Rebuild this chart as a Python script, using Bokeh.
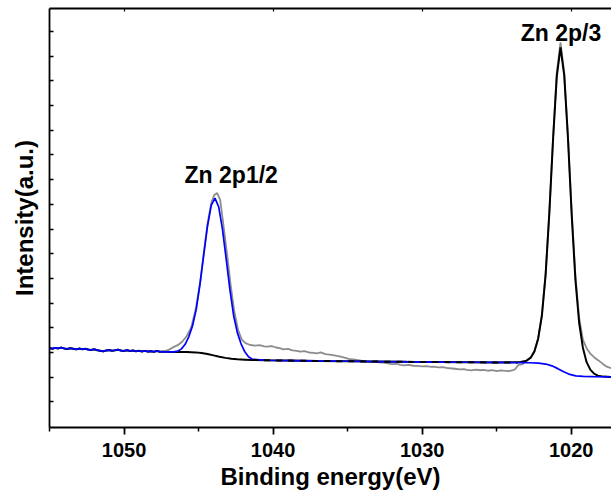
from bokeh.plotting import figure
from bokeh.models import (Range1d, FixedTicker, LinearAxis, Label, CustomLabelingPolicy,
                          CustomJSTickFormatter)
from bokeh.embed import file_html
from bokeh.resources import INLINE

# ---- data (binding energy in eV, intensity in arbitrary units) ----
left_eV = [1055.0, 1054.8, 1054.6, 1054.4, 1054.2, 1054.0, 1053.8, 1053.6, 1053.4, 1053.2,
           1053.0, 1052.8, 1052.6, 1052.4, 1052.2, 1052.0, 1051.8, 1051.6, 1051.4, 1051.2,
           1051.0, 1050.8, 1050.6, 1050.4, 1050.2, 1050.0, 1049.8, 1049.6, 1049.4, 1049.2,
           1049.0, 1048.8, 1048.6, 1048.4, 1048.2, 1048.0, 1047.8, 1047.6]
left_int = [79.6, 79.0, 79.8, 79.3, 80.1, 79.2, 78.7, 79.5, 78.9, 78.3,
            79.1, 78.5, 78.9, 78.1, 77.8, 78.4, 77.5, 76.9, 76.3, 77.2,
            77.6, 76.9, 77.4, 78.0, 77.1, 76.8, 77.5, 76.7, 77.2, 76.4,
            76.9, 76.2, 76.8, 76.1, 76.5, 75.9, 76.7, 76.0]

# background below Zn 2p1/2 (black)
bg1_eV = [1047.3, 1046.5, 1045.8, 1045.2, 1044.8, 1044.4, 1044.0, 1043.6, 1043.2, 1042.8,
          1042.4, 1041.9, 1041.4]
bg1_int = [75.9, 75.8, 75.6, 75.3, 74.6, 73.6, 72.3, 71.0, 69.8, 68.9,
           68.3, 68.0, 67.7]

# flat background between the peaks
mid_eV = [1040.5, 1039.0, 1037.0, 1035.0, 1033.0, 1031.0, 1029.0, 1027.0, 1025.0, 1023.6]
mid_int = [67.4, 67.1, 66.7, 66.4, 66.1, 65.8, 65.6, 65.4, 65.2, 65.0]

# background step below Zn 2p3/2 (blue)
bg2_eV = [1022.8, 1022.2, 1021.7, 1021.3, 1020.9, 1020.5, 1020.1, 1019.7, 1019.2, 1018.5, 1017.3]
bg2_int = [64.9, 64.6, 63.6, 61.8, 59.0, 55.8, 53.2, 51.8, 51.2, 50.9, 50.7]

# Zn 2p1/2 fitted peak + background (blue)
pk1_eV = [1047.3, 1046.7, 1046.4, 1046.15, 1045.9, 1045.65, 1045.4, 1045.15, 1044.9, 1044.65,
          1044.4, 1044.15, 1043.9, 1043.65, 1043.4, 1043.15, 1042.9, 1042.65, 1042.4, 1042.15,
          1041.9, 1041.65, 1041.4]
pk1_int = [75.9, 75.8, 76.5, 78.8, 83.4, 91.2, 102.1, 118.9, 144.2, 173.6,
           202.0, 222.7, 229.9, 221.2, 199.0, 169.2, 138.4, 112.3, 95.1, 83.9,
           75.9, 71.0, 68.5]

# Zn 2p3/2 fitted peak + background (black)
pk2_eV = [1023.4, 1023.0, 1022.72, 1022.47, 1022.22, 1021.97, 1021.72, 1021.47, 1021.22, 1020.97,
          1020.72, 1020.47, 1020.22, 1019.97, 1019.72, 1019.47, 1019.22, 1018.97, 1018.72, 1018.47,
          1018.22, 1017.8, 1017.3]
pk2_int = [65.6, 67.0, 70.0, 76.5, 89.0, 112.0, 153.0, 215.0, 289.0, 352.0,
           381.0, 353.0, 290.0, 213.0, 148.0, 105.0, 80.0, 65.5, 58.0, 54.0,
           52.0, 51.0, 50.7]

# measured spectrum (grey)
raw1_eV = [1047.3, 1047.0, 1046.7, 1046.4, 1046.1, 1045.8, 1045.5, 1045.2, 1044.9, 1044.65,
           1044.4, 1044.15, 1043.95, 1043.75, 1043.55, 1043.35, 1043.1, 1042.85, 1042.6, 1042.35,
           1042.1, 1041.85]
raw1_int = [76.5, 77.8, 80.5, 82.5, 86.0, 91.5, 100.0, 118.0, 145.0, 175.0,
            204.0, 225.0, 233.0, 235.0, 228.0, 205.0, 175.0, 143.0, 116.0, 98.0,
            88.0, 84.5]
raw2_eV = [1041.54, 1041.2, 1040.9, 1040.6, 1040.42, 1040.1, 1039.8, 1039.5, 1039.31, 1039.0,
           1038.7, 1038.4, 1038.19, 1037.9, 1037.6, 1037.3, 1037.07, 1036.8, 1036.5, 1036.2,
           1035.9, 1035.72, 1035.4, 1035.1, 1034.83, 1034.5, 1034.2, 1033.9, 1033.71, 1033.4,
           1033.1, 1032.8, 1032.6, 1032.3, 1032.0, 1031.7, 1031.48, 1031.2, 1030.9, 1030.6,
           1030.36, 1030.0, 1029.7, 1029.4, 1029.25, 1028.9, 1028.6, 1028.3, 1028.13, 1027.8,
           1027.5, 1027.2, 1027.0, 1026.7, 1026.4, 1026.1, 1025.89, 1025.6, 1025.3, 1025.0,
           1024.7, 1024.55, 1024.2, 1023.9, 1023.77, 1023.54, 1023.3]
raw2_int = [82.7, 82.0, 82.5, 81.3, 81.0, 81.6, 80.2, 79.4, 78.4, 78.9,
            77.3, 76.8, 76.0, 76.6, 75.2, 74.8, 74.4, 75.3, 73.6, 73.0,
            72.4, 71.7, 70.8, 69.6, 68.4, 68.0, 67.3, 66.5, 66.0, 65.6,
            65.9, 65.1, 65.0, 64.2, 63.6, 63.9, 62.7, 62.3, 62.8, 61.9,
            61.7, 61.2, 61.6, 60.8, 61.0, 60.3, 60.6, 59.5, 59.4, 58.9,
            58.2, 58.5, 57.7, 57.2, 58.0, 57.4, 57.7, 56.9, 57.5, 56.6,
            57.3, 57.0, 56.5, 57.4, 58.4, 62.7, 63.2]
raw3_eV = [1022.98, 1022.72, 1022.47, 1022.22, 1021.97, 1021.72, 1021.47, 1021.22, 1020.97, 1020.72,
           1020.47, 1020.22, 1019.97, 1019.72, 1019.47, 1019.22, 1018.97, 1018.72, 1018.47, 1018.2,
           1017.9, 1017.62, 1017.3]
raw3_int = [67.0, 70.0, 76.0, 89.5, 113.0, 154.0, 216.0, 290.0, 356.0, 386.0,
            355.0, 292.0, 216.0, 152.0, 110.0, 88.0, 79.5, 74.0, 70.5, 67.5,
            64.0, 61.0, 59.3]

x_major = [1050, 1040, 1030, 1020]
x_minor = [1055, 1045, 1035, 1025]

peak_labels = ["Zn 2p1/2", "Zn 2p/3"]
label_eV = [1042.81, 1020.69]
label_int = [252.7, 395.7]

FONT = "Liberation Sans"

raw_eV = left_eV + raw1_eV + raw2_eV + raw3_eV
raw_int = left_int + raw1_int + raw2_int + raw3_int
blue_eV = left_eV + pk1_eV + mid_eV + bg2_eV
blue_int = left_int + pk1_int + mid_int + bg2_int
black_eV = left_eV + bg1_eV + mid_eV[:-1] + pk2_eV
black_int = left_int + bg1_int + mid_int[:-1] + pk2_int

p = figure(width=611, height=497, output_backend="svg", toolbar_location=None,
           x_range=Range1d(1055, 1017.3), y_range=Range1d(0, 420),
           min_border_left=49, min_border_right=0, min_border_top=8, min_border_bottom=70)
p.outline_line_color = None
p.xgrid.visible = False
p.ygrid.visible = False
p.background_fill_color = "white"
p.border_fill_color = "white"

p.line(raw_eV, raw_int, line_color="#8c8c8c", line_width=1.8)
p.line(black_eV, black_int, line_color="black", line_width=2.0)
p.line(blue_eV, blue_int, line_color="#0000ff", line_width=1.7)
p.line([1041.4] + mid_eV, [67.7] + mid_int, line_color="black", line_width=2.0, line_dash="6 6")

def hidden_labels():
    return dict(major_label_policy=CustomLabelingPolicy(
                    code="for (const i of indices) indices.unset(i)\nreturn indices"),
                formatter=CustomJSTickFormatter(code="return ''"),
                major_label_text_font_size="1px", major_label_standoff=0)

xa = p.xaxis[0]
xa.ticker = FixedTicker(ticks=x_major, minor_ticks=x_minor)
xa.major_tick_out = 7
xa.major_tick_in = 0
xa.minor_tick_out = 4
xa.minor_tick_in = 0
xa.axis_line_width = 1.8
xa.major_tick_line_width = 1.8
xa.minor_tick_line_width = 1.5
xa.major_label_text_font = FONT
xa.major_label_text_font_style = "bold"
xa.major_label_text_font_size = "20px"
xa.major_label_text_color = "black"
xa.major_label_standoff = 8
xa.axis_label = "Binding energy(eV)"
xa.axis_label_text_font = FONT
xa.axis_label_text_font_style = "bold"
xa.axis_label_text_font_size = "24px"
xa.axis_label_standoff = 3
xa.axis_label_text_color = "black"

ya = p.yaxis[0]
ya.ticker = FixedTicker(ticks=[25.7 + 24.75 * i for i in range(16)], minor_ticks=[])
ya.major_tick_in = 4
ya.major_tick_out = 0
ya.minor_tick_in = 0
ya.minor_tick_out = 0
ya.axis_line_width = 1.8
ya.major_tick_line_width = 1.5
for k, v in hidden_labels().items():
    setattr(ya, k, v)
ya.axis_label = "Intensity(a.u.)"
ya.axis_label_text_font = FONT
ya.axis_label_text_font_style = "bold"
ya.axis_label_text_font_size = "24px"
ya.axis_label_standoff = 12
ya.axis_label_text_color = "black"

top = LinearAxis(ticker=FixedTicker(ticks=x_major, minor_ticks=[]),
                 major_tick_in=3, major_tick_out=0, minor_tick_in=0, minor_tick_out=0,
                 axis_line_width=1.8, major_tick_line_width=1.2, **hidden_labels())
p.add_layout(top, "above")

for txt, ex, ey in zip(peak_labels, label_eV, label_int):
    p.add_layout(Label(x=ex, y=ey, text=txt, text_align="center", text_baseline="alphabetic",
                       text_font=FONT, text_font_style="bold", text_font_size="23px",
                       text_color="black"))

open("out.html", "w").write(file_html(p, INLINE))
